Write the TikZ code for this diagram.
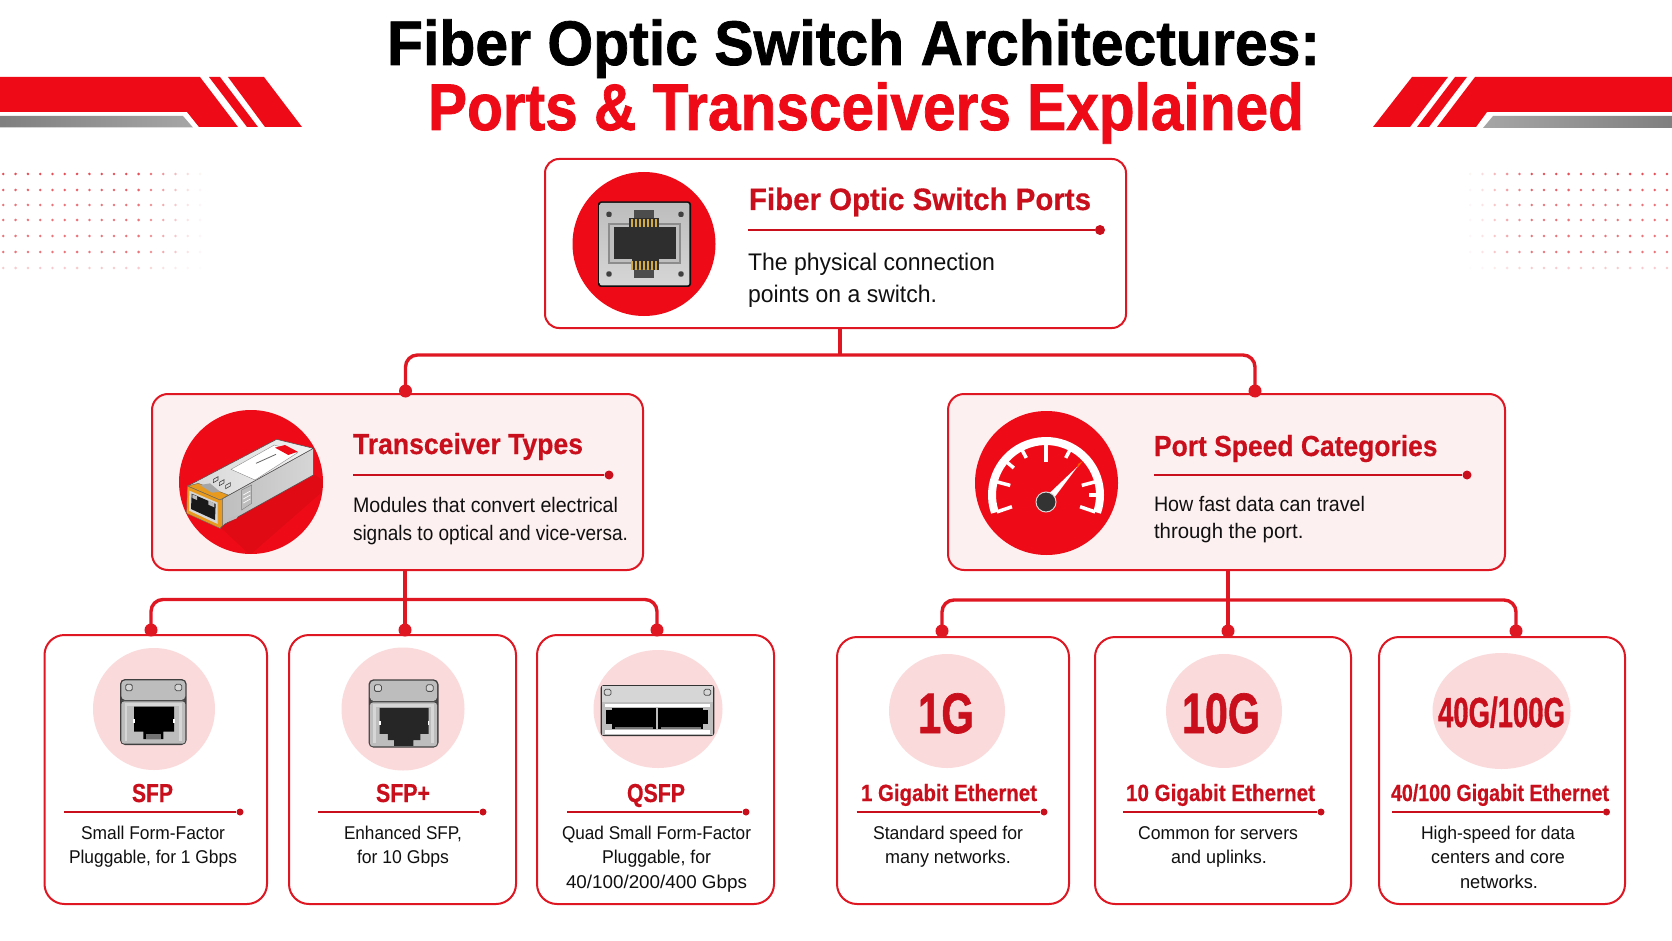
\documentclass[tikz,border=0pt]{standalone}
\usepackage{fontspec}
\usepackage{graphicx}
\setmainfont{Liberation Sans}[BoldFeatures={FakeBold=0.5}]
\newfontfamily\heavyface{Liberation Sans Bold}[FakeBold=1.2]
\usetikzlibrary{calc}

\definecolor{brandred}{HTML}{EE0B17}
\definecolor{headred}{HTML}{C90F1C}
\definecolor{wirered}{HTML}{DF1722}
\definecolor{paleface}{HTML}{FDF0F0}
\definecolor{palecirc}{HTML}{FBDADB}
\definecolor{inkdark}{HTML}{101010}
\definecolor{silver}{HTML}{BDBDBD}
\definecolor{silverlt}{HTML}{D6D6D6}
\definecolor{gold}{HTML}{D4AC3E}
\definecolor{amber}{HTML}{E79A1E}

\tikzset{
  lab/.style={inner sep=0pt,outer sep=0pt},
  titleblack/.style={font=\heavyface\fontsize{63}{70}\selectfont,text=black},
  titlered/.style={font=\heavyface\fontsize{66}{70}\selectfont,text=brandred},
  bigspeed/.style={font=\heavyface\fontsize{#1}{60}\selectfont,text=headred},
  headA/.style={font=\bfseries\fontsize{31}{36}\selectfont,text=headred},
  headB/.style={font=\bfseries\fontsize{29}{34}\selectfont,text=headred},
  headC/.style={font=\bfseries\fontsize{26}{30}\selectfont,text=headred},
  headD/.style={font=\bfseries\fontsize{23.5}{28}\selectfont,text=headred},
  bodyA/.style={font=\fontsize{24}{28}\selectfont,text=inkdark},
  bodyB/.style={font=\fontsize{21}{25}\selectfont,text=inkdark},
  bodyC/.style={font=\fontsize{18.5}{22}\selectfont,text=inkdark},
  rootcard/.style={draw=wirered,line width=2pt,rounded corners=14pt,fill=white,inner sep=0pt},
  midcard/.style={draw=wirered,line width=2pt,rounded corners=16pt,fill=paleface,inner sep=0pt},
  leafcard/.style={draw=wirered,line width=2pt,rounded corners=20pt,fill=white,inner sep=0pt},
  wire/.style={draw=wirered,line width=3.4pt,rounded corners=12pt},
  joint/.style={circle,fill=wirered,inner sep=0pt,minimum size=13pt},
  rulemark/.style={circle,fill=headred,inner sep=0pt,minimum size=#1},
  rulestroke/.style={draw=headred,line width=2pt},
}

% text placed at left end and baseline, set to an exact width
\newcommand{\lbl}[6]{\node[lab,anchor=base west,#2] (#1) at (#3,#4) {\resizebox{#5pt}{\height}{#6}};}
% card given by its two corners
\newcommand{\card}[6]{%
  \pgfmathsetmacro{\cw}{#5-#3}\pgfmathsetmacro{\ch}{#6-#4}%
  \pgfmathsetmacro{\cx}{(#3+#5)/2}\pgfmathsetmacro{\cy}{(#4+#6)/2}%
  \node[#2,minimum width=\cw pt,minimum height=\ch pt] (#1) at (\cx,\cy) {};}
% underline ending in a dot
\newcommand{\underl}[5]{%
  \coordinate (#1s) at (#2,#4);
  \node[rulemark=#5pt] (#1e) at (#3,#4) {};
  \draw[rulestroke] (#1s) -- (#1e);}

% pluggable cage, drawn on a 90x85 grid at three units per cell
\newcommand{\cageplain}[4]{%
  \begin{scope}[shift={(#1,#2)},xscale=#3,yscale=#4]
    \fill[black!75,rounded corners=5pt] (30,27) rectangle (230,225);
    \fill[silver,rounded corners=4pt] (34,31) rectangle (226,90);
    \fill[black!70] (34,90) rectangle (226,94);
    \draw[black!70,line width=.8pt,fill=silverlt,rounded corners=1.5pt] (47,43) rectangle (67,62);
    \draw[black!70,line width=.8pt,fill=silverlt,rounded corners=1.5pt] (195,43) rectangle (215,62);
    \fill[silver,rounded corners=3pt] (34,94) rectangle (226,221);
    \fill[silverlt] (44,99) rectangle (216,107);
    \fill[silverlt] (44,99) rectangle (52,212);
    \fill[silverlt] (208,99) rectangle (216,212);
  \end{scope}}
\newcommand{\sfphole}[4]{%
  \begin{scope}[shift={(#1,#2)},xscale=#3,yscale=#4]
    \fill[black] (72,110) -- (192,110) -- (192,185) -- (160,185) -- (160,207) -- (100,207) -- (100,185) -- (72,185) -- cycle;
    \fill[white] (70,148) rectangle (75,158);
    \fill[white] (189,148) rectangle (194,158);
    \fill[black!55] (108,193) rectangle (152,207);
  \end{scope}}

\begin{document}
\begin{tikzpicture}[x=1pt,y=-1pt]
\useasboundingbox (0,0) rectangle (1672,941);
\fill[white] (0,0) rectangle (1672,941);

% corner ribbons
\fill[brandred] (0,77) -- (200,77) -- (238,127) -- (199,127) -- (187,112) -- (0,112) -- cycle;
\fill[brandred] (209,77) -- (220,77) -- (258,127) -- (247,127) -- cycle;
\fill[brandred] (228,77) -- (264,77) -- (302,127) -- (265,127) -- cycle;
\shade[left color=black!50,right color=black!35] (0,116) -- (183,116) -- (193,127.5) -- (0,127.5) -- cycle;
\fill[brandred] (1475,77) -- (1672,77) -- (1672,112) -- (1487,112) -- (1476,127) -- (1437,127) -- cycle;
\fill[brandred] (1455,77) -- (1467,77) -- (1429,127) -- (1417,127) -- cycle;
\fill[brandred] (1412,77) -- (1448,77) -- (1410,127) -- (1373,127) -- cycle;
\shade[left color=black!35,right color=black!50] (1493,116) -- (1672,116) -- (1672,128) -- (1483,128) -- cycle;

% fading dot fields on both sides
\foreach \ry/\rowop in {174/.95,190/.85,205/.75,220/.75,236/.75,252/.75,268/.28}{
  \foreach \ci in {0,...,16}{
    \pgfmathsetmacro{\dop}{\rowop*(\ci<12 ? .8 : max(.05,.8-(\ci-11)*.16))}
    \pgfmathsetmacro{\lx}{3.3+12.3*\ci}
    \pgfmathsetmacro{\rx}{1667-12.3*\ci}
    \fill[wirered,opacity=\dop] (\lx,\ry) circle (1.4pt);
    \fill[wirered,opacity=\dop] (\rx,\ry) circle (1.4pt);
  }
}

% heading
\lbl{tl1}{titleblack}{387}{65}{933}{Fiber Optic Switch Architectures:}
\lbl{tl2}{titlered}{428}{130}{876}{Ports \& Transceivers Explained}

% cards
\card{root}{rootcard}{545}{159}{1126}{328}
\card{trans}{midcard}{152}{394}{643}{570}
\card{speed}{midcard}{948}{394}{1505}{570}
\card{sfp}{leafcard}{44.5}{635}{267}{904}
\card{sfpp}{leafcard}{289}{635}{516}{904}
\card{qsfp}{leafcard}{537}{635}{774}{904}
\card{oneg}{leafcard}{837}{637}{1069}{904}
\card{teng}{leafcard}{1095}{637}{1351}{904}
\card{hung}{leafcard}{1379}{637}{1625}{904}

% connectors and their joints
\node[joint] (jT) at (405.5,391) {};
\node[joint] (jS) at (1255,391) {};
\node[joint] (j1) at (151,630) {};
\node[joint] (j2) at (405,630) {};
\node[joint] (j3) at (657,630) {};
\node[joint] (j4) at (942,631) {};
\node[joint] (j5) at (1228,631) {};
\node[joint] (j6) at (1516,631) {};
\coordinate (busA) at (840,355);
\coordinate (busB) at (405,599.5);
\coordinate (busC) at (1228,600);
\draw[wire] (jT.center) |- (busA) -| (jS.center);
\draw[wire] (busA) -- (busA |- root.south);
\draw[wire] (j1.center) |- (busB) -| (j3.center);
\draw[wire] (busB |- trans.south) -- (j2.center);
\draw[wire] (j4.center) |- (busC) -| (j6.center);
\draw[wire] (busC |- speed.south) -- (j5.center);

% root card: socket badge
\fill[brandred] (644,244) ellipse [x radius=71.5,y radius=72];
\begin{scope}[shift={(590,190)},scale=1/3]
  \fill[inkdark,rounded corners=3pt] (24,34) rectangle (303,291);
  \shade[top color=silver,bottom color=silverlt,rounded corners=2pt] (29,39) rectangle (298,286);
  \foreach \sx/\sy in {57/73,273/73,57/252,273/252}{\fill[black!75,rounded corners=2pt] (\sx-8,\sy-8) rectangle (\sx+8,\sy+8);}
  \fill[black!45] (55,100) rectangle (272,222);
  \fill[black!25] (60,105) rectangle (267,217);
  \fill[black!82] (72,112) rectangle (258,208);
  \fill[black!70] (133,60) rectangle (193,86);
  \fill[black!82] (118,84) rectangle (208,116);
  \fill[black!82] (125,208) rectangle (207,240);
  \fill[black!70] (133,238) rectangle (193,265);
  \foreach \px in {124,136,148,160,172,184,196}{
    \fill[gold] (\px,86) rectangle (\px+6,112);
    \fill[gold] (\px,214) rectangle (\px+6,240);
  }
\end{scope}
\lbl{rootH}{headA}{749}{210}{342}{Fiber Optic Switch Ports}
\underl{ru}{748}{1100}{230}{10}
\lbl{rootB1}{bodyA}{748}{270}{247}{The physical connection}
\lbl{rootB2}{bodyA}{748}{302}{189}{points on a switch.}

% transceiver card: module badge
\fill[brandred] (251,482) circle (72pt);
\begin{scope}
  \clip (251,482) circle (72pt);
  \fill[black,opacity=.06] (220,527) -- (315,475) -- (330,485) -- (250,555) -- cycle;
\end{scope}
\begin{scope}[shift={(175,400)},scale=1/3]
  \shade[left color=silver,right color=silverlt] (135,300) -- (415,145) -- (415,225) -- (190,350) -- (150,372) -- (135,385) -- cycle;
  \draw[black!70,line width=.5pt] (135,300) -- (415,145) -- (415,225) -- (190,350) -- (150,372) -- (135,385);
  \shade[left color=silverlt,right color=black!5,draw=black!70,line width=.5pt] (38,258) -- (305,118) -- (415,145) -- (135,300) -- cycle;
  \fill[white,draw=black!45,line width=.4pt] (168,208) -- (298,135) -- (368,158) -- (240,240) -- cycle;
  \fill[brandred] (300,143) -- (330,135) -- (368,155) -- (340,165) -- cycle;
  \draw[black!60,line width=.8pt] (243,190) -- (303,163);
  \foreach \tx/\ty in {115/238,133/247,152/256}{\draw[black!75,line width=.6pt] (\tx,\ty) -- (\tx+14,\ty-8) -- (\tx+14,\ty+2) -- (\tx,\ty+10) -- cycle;}
  \fill[silver,draw=black!50,line width=.4pt] (200,270) -- (230,255) -- (230,310) -- (200,330) -- cycle;
  \foreach \sl in {285,297,309}{\draw[white,line width=.7pt] (205,\sl) -- (226,\sl-12);}
  \fill[silver] (160,355) -- (190,345) -- (185,355) -- (160,365) -- cycle;
  \fill[amber,draw=black!60,line width=.4pt] (38,258) -- (70,250) -- (160,285) -- (135,300) -- cycle;
  \fill[black!35] (75,255) -- (105,250) -- (135,275) -- (110,278) -- cycle;
  \fill[amber,draw=black!60,line width=.4pt] (37,258) -- (135,300) -- (143,296) -- (143,376) -- (135,385) -- (35,340) -- cycle;
  \fill[silverlt] (43,272) -- (128,308) -- (128,372) -- (42,332) -- cycle;
  \fill[black!90] (50,281) -- (122,312) -- (120,360) -- (48,327) -- cycle;
  \fill[silver] (100,301) -- (118,310) -- (118,322) -- (100,314) -- cycle;
  \fill[silver] (52,283) -- (66,289) -- (66,300) -- (52,294) -- cycle;
\end{scope}
\lbl{transH}{headB}{353}{454}{230}{Transceiver Types}
\underl{tu}{353}{609}{475}{9}
\lbl{transB1}{bodyB}{353}{512}{265}{Modules that convert electrical}
\lbl{transB2}{bodyB}{353}{540}{275}{signals to optical and vice-versa.}

% speed card: gauge badge
\fill[brandred] (1046.5,483) ellipse [x radius=71.5,y radius=72];
\begin{scope}[shift={(1046,495)},x=1pt,y=1pt]
  \draw[white,line width=8pt] (199:54) arc [start angle=199,end angle=-19,radius=54];
  \foreach \ang/\len in {199/16,165/15,90/19,15/15,-19/16,140/10,118/10,62/10,0/9}{
    \draw[white,line width=3.5pt] (\ang:52) -- (\ang:52-\len);
  }
  \fill[white] (3,-9.7) -- (-3,-4.3) -- (32,29) -- cycle;
  \fill[orange!70!red] (31,27) -- (33,29) -- (37,34) -- (32,31) -- cycle;
  \fill[black!80,draw=silverlt,line width=1pt] (0,-7) circle (10pt);
\end{scope}
\lbl{speedH}{headB}{1154}{456}{283.5}{Port Speed Categories}
\underl{su}{1154}{1467}{475}{9}
\lbl{speedB1}{bodyB}{1154}{511}{211}{How fast data can travel}
\lbl{speedB2}{bodyB}{1154}{538}{149.5}{through the port.}

% SFP
\fill[palecirc] (154,709) circle (61pt);
\cageplain{110}{670}{1/3}{1/3}
\sfphole{110}{670}{1/3}{1/3}
\lbl{sfpH}{headC}{132}{802}{41}{SFP}
\underl{u1}{64}{240}{812}{7}
\lbl{sfpB1}{bodyC}{81}{839}{144}{Small Form-Factor}
\lbl{sfpB2}{bodyC}{69}{863}{168}{Pluggable, for 1 Gbps}

% SFP+
\fill[palecirc] (403,709) circle (61.5pt);
\cageplain{358}{670}{.35}{.345}
\begin{scope}[shift={(358,670)},xscale=.35,yscale=.345]
  \fill[black!85] (62,110) -- (202,110) -- (202,185) -- (178,185) -- (178,203) -- (158,203) -- (158,220) -- (103,220) -- (103,203) -- (85,203) -- (85,185) -- (62,185) -- cycle;
  \fill[white] (60,148) rectangle (65,158);
  \fill[white] (199,148) rectangle (204,158);
\end{scope}
\lbl{sfppH}{headC}{376}{802}{54}{SFP+}
\underl{u2}{318}{483}{812}{7}
\lbl{sfppB1}{bodyC}{344}{839}{118}{Enhanced SFP,}
\lbl{sfppB2}{bodyC}{357}{863}{92}{for 10 Gbps}

% QSFP
\fill[palecirc] (658,709) ellipse [x radius=64.5,y radius=59];
\begin{scope}[shift={(530,630)},scale=1/3]
  \fill[black!80,rounded corners=3pt] (212,165) rectangle (553,318);
  \fill[silverlt] (216,169) rectangle (549,215);
  \draw[black!70,line width=.8pt,fill=silverlt,rounded corners=1.5pt] (223,178) rectangle (243,196);
  \draw[black!70,line width=.8pt,fill=silverlt,rounded corners=1.5pt] (522,178) rectangle (542,196);
  \fill[silver] (216,217) rectangle (549,314);
  \fill[white] (225,222) rectangle (540,230);
  \fill[white] (225,300) rectangle (540,311);
  \fill[black] (245,235) rectangle (378,298);
  \fill[black] (385,235) rectangle (520,298);
  \fill[black] (228,240) rectangle (246,282);
  \fill[black] (519,240) rectangle (535,282);
  \fill[black!55] (255,290) rectangle (370,298);
  \fill[black!55] (393,290) rectangle (512,298);
\end{scope}
\lbl{qsfpH}{headC}{627}{802}{58}{QSFP}
\underl{u3}{567}{746}{812}{7}
\lbl{qsfpB1}{bodyC}{562}{839}{189}{Quad Small Form-Factor}
\lbl{qsfpB2}{bodyC}{602}{863}{109}{Pluggable, for}
\lbl{qsfpB3}{bodyC}{566}{888}{181}{40/100/200/400 Gbps}

% 1G
\fill[palecirc] (947,711) ellipse [x radius=58,y radius=57];
\lbl{oneBig}{bigspeed=57}{918}{733}{56}{1G}
\lbl{oneH}{headD}{861}{801}{176}{1 Gigabit Ethernet}
\underl{u4}{856.5}{1044}{812}{7}
\lbl{oneB1}{bodyC}{873}{839}{150}{Standard speed for}
\lbl{oneB2}{bodyC}{885}{863}{126}{many networks.}

% 10G
\fill[palecirc] (1224,711) ellipse [x radius=58,y radius=57];
\lbl{tenBig}{bigspeed=57}{1182}{733}{78}{10G}
\lbl{tenH}{headD}{1126}{801}{189}{10 Gigabit Ethernet}
\underl{u5}{1123}{1321}{812}{7}
\lbl{tenB1}{bodyC}{1138}{839}{160}{Common for servers}
\lbl{tenB2}{bodyC}{1171}{863}{96}{and uplinks.}

% 40G/100G
\fill[palecirc] (1501.5,711) ellipse [x radius=69,y radius=58];
\lbl{hunBig}{bigspeed=42}{1438}{727}{127}{40G/100G}
\lbl{hunH}{headD}{1391}{801}{218}{40/100 Gigabit Ethernet}
\underl{u6}{1392}{1606.5}{812}{7}
\lbl{hunB1}{bodyC}{1421}{839}{154}{High-speed for data}
\lbl{hunB2}{bodyC}{1431}{863}{134}{centers and core}
\lbl{hunB3}{bodyC}{1460}{888}{78}{networks.}
\end{tikzpicture}
\end{document}
